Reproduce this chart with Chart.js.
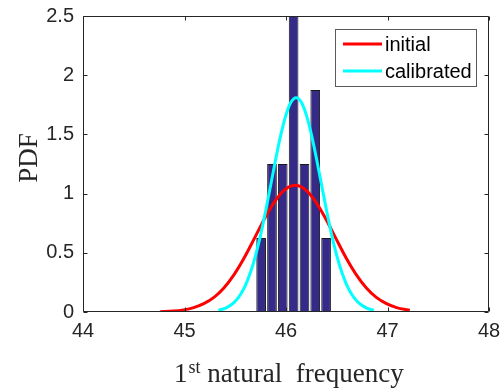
<!DOCTYPE html>
<html>
<head>
<meta charset="utf-8">
<script src="https://cdn.jsdelivr.net/npm/chart.js@4/dist/chart.umd.min.js"></script>
<style>
  html, body { margin: 0; padding: 0; background: #ffffff; }
  #wrap { width: 501px; height: 391px; position: relative; }
</style>
</head>
<body>
<div id="wrap"><canvas id="c" width="501" height="391"></canvas></div>
<script>
// ---- data ----
const binCenters = [45.755, 45.862, 45.968, 46.075, 46.182, 46.288, 46.395];
const binDensity = [0.625, 1.25, 1.25, 2.5, 1.25, 1.875, 0.625];

const initialX = [44.76, 44.89, 44.99, 45.09, 45.19, 45.29, 45.39, 45.49, 45.59, 45.69, 45.79, 45.89, 45.99,
                  46.09, 46.19, 46.29, 46.39, 46.49, 46.59, 46.69, 46.79, 46.89, 46.99, 47.09, 47.22];
const initialPDF = [0.003, 0.008, 0.018, 0.037, 0.070, 0.123, 0.205, 0.318, 0.460, 0.624, 0.790, 0.935, 1.034,
                    1.070, 1.034, 0.935, 0.790, 0.624, 0.460, 0.318, 0.205, 0.123, 0.070, 0.037, 0.014];

const calibratedX = [45.335, 45.40, 45.45, 45.50, 45.55, 45.60, 45.65, 45.70, 45.75, 45.80, 45.85, 45.90, 45.95,
                     46.00, 46.05, 46.10, 46.15, 46.20, 46.25, 46.30, 46.35, 46.40, 46.45, 46.50, 46.55,
                     46.60, 46.65, 46.70, 46.75, 46.80, 46.865];
const calibratedPDF = [0.014, 0.031, 0.054, 0.090, 0.146, 0.225, 0.335, 0.477, 0.652, 0.855, 1.075, 1.297, 1.500,
                       1.665, 1.773, 1.810, 1.773, 1.665, 1.500, 1.297, 1.075, 0.855, 0.652, 0.477, 0.335,
                       0.225, 0.146, 0.090, 0.054, 0.031, 0.014];

const xTicks = [44, 45, 46, 47, 48];
const yTicks = [0, 0.5, 1, 1.5, 2, 2.5];
const seriesLabels = ['initial', 'calibrated'];
const xTitleMain = '1';
const xTitleSup = 'st';
const xTitleRest = ' natural  frequency';
const yTitle = 'PDF';

// ---- build datasets ----
const toPts = (xs, ys) => xs.map((x, i) => ({ x: x, y: ys[i] }));

const AXIS_COLOR = '#262626';
const TICK_FONT = '20px "Liberation Sans", Arial, sans-serif';

const framePlugin = {
  id: 'frame',
  afterDraw(chart) {
    const ctx = chart.ctx;
    const a = chart.chartArea;
    const xs = chart.scales.x, ys = chart.scales.y;
    const L = Math.round(a.left) + 0.5, R = Math.round(a.right) - 0.5;
    const T = Math.round(a.top) + 0.5, B = Math.round(a.bottom) - 0.5;
    ctx.save();
    ctx.strokeStyle = AXIS_COLOR;
    ctx.lineWidth = 1;
    ctx.beginPath();
    ctx.rect(L, T, R - L, B - T);
    // inward ticks
    const tl = 4;
    xTicks.forEach(v => {
      const px = Math.round(xs.getPixelForValue(v)) + 0.5;
      ctx.moveTo(px, B); ctx.lineTo(px, B - tl);
      ctx.moveTo(px, T); ctx.lineTo(px, T + tl);
    });
    yTicks.forEach(v => {
      const py = Math.round(ys.getPixelForValue(v)) + 0.5;
      ctx.moveTo(L, py); ctx.lineTo(L + tl, py);
      ctx.moveTo(R, py); ctx.lineTo(R - tl, py);
    });
    ctx.stroke();

    // axis titles
    ctx.fillStyle = AXIS_COLOR;
    ctx.textBaseline = 'alphabetic';
    ctx.textAlign = 'left';
    const mainFont = '27px "Liberation Serif", "Times New Roman", serif';
    const supFont = '18px "Liberation Serif", "Times New Roman", serif';
    ctx.font = mainFont;
    const w1 = ctx.measureText(xTitleMain).width;
    ctx.font = supFont;
    const w2 = ctx.measureText(xTitleSup).width;
    const x0 = 174;
    const baseY = 382;
    ctx.font = mainFont;
    ctx.fillText(xTitleMain, x0, baseY);
    ctx.font = supFont;
    ctx.fillText(xTitleSup, x0 + w1 + 1, baseY - 9);
    ctx.font = mainFont;
    ctx.fillText(xTitleRest, x0 + w1 + 1 + w2, baseY);

    ctx.save();
    ctx.translate(37, 158);
    ctx.rotate(-Math.PI / 2);
    ctx.textAlign = 'center';
    ctx.font = mainFont;
    ctx.fillText(yTitle, 0, 0);
    ctx.restore();

    // legend box
    const bx = 335.5, by = 29.5, bw = 141, bh = 57;
    ctx.fillStyle = '#ffffff';
    ctx.fillRect(bx, by, bw, bh);
    ctx.strokeStyle = '#5a5a5a';
    ctx.lineWidth = 1;
    ctx.strokeRect(bx, by, bw, bh);
    const rows = [44, 71];
    seriesLabels.forEach((lab, r) => {
      const ds = chart.data.datasets.find(d => d.label === lab);
      const y = rows[r];
      ctx.strokeStyle = ds.borderColor;
      ctx.lineWidth = 3;
      ctx.beginPath();
      ctx.moveTo(343, y);
      ctx.lineTo(382, y);
      ctx.stroke();
      ctx.fillStyle = '#000000';
      ctx.font = TICK_FONT;
      ctx.textAlign = 'left';
      ctx.textBaseline = 'middle';
      ctx.fillText(ds.label, 385, y + 1);
    });
    ctx.restore();
  }
};

new Chart(document.getElementById('c'), {
  type: 'bar',
  data: {
    datasets: [
      {
        type: 'line',
        label: seriesLabels[1],
        data: toPts(calibratedX, calibratedPDF),
        borderColor: '#00ffff',
        borderWidth: 3,
        pointRadius: 0,
        tension: 0.4,
        cubicInterpolationMode: 'monotone',
        fill: false,
        order: 0
      },
      {
        type: 'line',
        label: seriesLabels[0],
        data: toPts(initialX, initialPDF),
        borderColor: '#ff0000',
        borderWidth: 3,
        pointRadius: 0,
        tension: 0.4,
        cubicInterpolationMode: 'monotone',
        fill: false,
        order: 1
      },
      {
        type: 'bar',
        label: 'histogram',
        data: toPts(binCenters, binDensity),
        backgroundColor: '#352a87',
        borderColor: '#1a1a1a',
        borderWidth: 1,
        borderSkipped: false,
        barPercentage: 0.9,
        categoryPercentage: 1.0,
        order: 2
      }
    ]
  },
  options: {
    responsive: false,
    animation: false,
    devicePixelRatio: 1,
    layout: { padding: { left: 0, right: 12, top: 16, bottom: 0 } },
    plugins: {
      legend: { display: false },
      tooltip: { enabled: false },
      title: { display: false }
    },
    scales: {
      x: {
        type: 'linear',
        offset: false,
        min: 44, max: 48,
        grid: { display: false, drawTicks: false, offset: false },
        border: { display: false },
        afterBuildTicks: s => { s.ticks = xTicks.map(v => ({ value: v })); },
        afterFit: s => { s.height = 79; s.paddingLeft = 0; s.paddingRight = 0; },
        ticks: {
          color: AXIS_COLOR,
          font: { family: '"Liberation Sans", Arial, sans-serif', size: 20 },
          padding: 7,
          maxRotation: 0,
          autoSkip: false,
          callback: v => String(v)
        }
      },
      y: {
        type: 'linear',
        min: 0, max: 2.5,
        grid: { display: false, drawTicks: false },
        border: { display: false },
        afterBuildTicks: s => { s.ticks = yTicks.map(v => ({ value: v })); },
        afterFit: s => { s.width = 83; s.paddingTop = 0; s.paddingBottom = 0; },
        ticks: {
          color: AXIS_COLOR,
          font: { family: '"Liberation Sans", Arial, sans-serif', size: 20 },
          padding: 9,
          autoSkip: false,
          callback: v => String(v)
        }
      }
    }
  },
  plugins: [framePlugin]
});
</script>
</body>
</html>
